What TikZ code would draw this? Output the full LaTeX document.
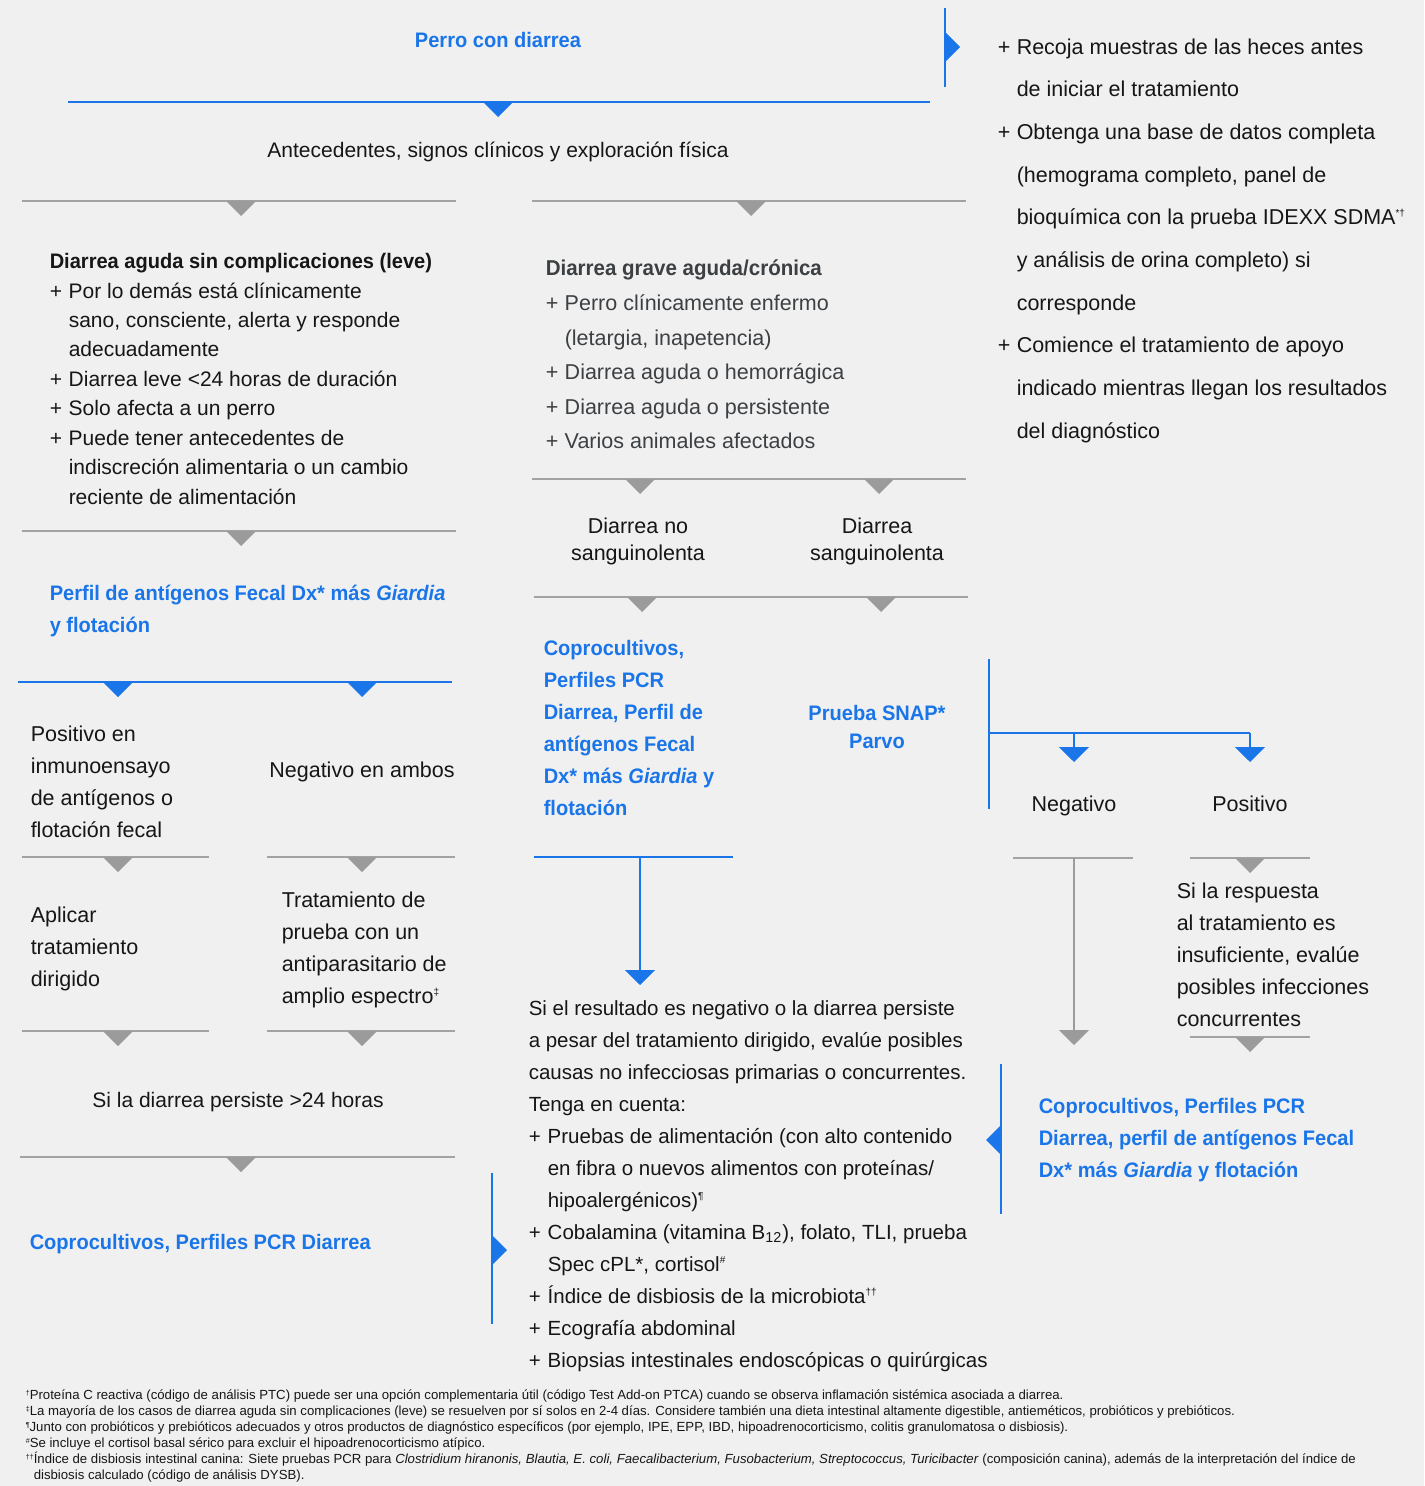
\documentclass[tikz,border=0pt]{standalone}
\usepackage{fontspec}
\setmainfont{Liberation Sans}[BoldFeatures={FakeStretch=0.955},BoldItalicFeatures={FakeStretch=0.955}]
\usepackage{tikz}
\usetikzlibrary{positioning,arrows.meta}
\definecolor{bgc}{HTML}{F0F0F0}
\definecolor{idxblue}{HTML}{1A75E8}
\definecolor{sepgrey}{HTML}{A3A3A3}
\definecolor{trigrey}{HTML}{9B9B9B}
\definecolor{txt}{HTML}{161616}
\definecolor{txtgrey}{HTML}{3C4043}
\newcommand{\itm}{\makebox[9.5pt][l]{+}}
\newcommand{\ind}{\hspace*{9.5pt}}
\newcommand{\fn}[1]{\smash{\textsuperscript{\tiny #1}}}
\newcommand{\fnm}[1]{\smash{\raisebox{2pt}{\fontsize{3.6}{4}\selectfont #1}}}
\tikzset{
  tridown/.pic={\fill (-15,0) -- (15,0) -- (0,15) -- cycle;},
  triright/.pic={\fill (0,-15) -- (0,15) -- (15,0) -- cycle;},
  trileft/.pic={\fill (0,-15) -- (0,15) -- (-15,0) -- cycle;}
}

\begin{document}
\begin{tikzpicture}[x=0.5pt,y=-0.5pt,line width=0.75pt,
                    font=\fontsize{10.75}{16}\selectfont,text=txt]
  \tikzstyle{every node}=[inner sep=0pt]
  \tikzstyle{hdr}=[text=idxblue,font=\fontsize{10.5}{16}\selectfont\bfseries]
  \tikzstyle{greyline}=[draw=sepgrey]
  \tikzstyle{blueline}=[draw=idxblue]
  \tikzstyle{blk}=[anchor=base west,align=left]
  \tikzstyle{ctr}=[anchor=base,align=center]
  \tikzstyle{tip}=[-{Triangle[width=15pt,length=7.5pt]}]

  \fill[bgc] (0,0) rectangle (1424,1486);
  \useasboundingbox (0,0) rectangle (1424,1486);

  % top (multi-line nodes sit on the baseline of their last line)
  \node[hdr,ctr] (dog) at (498,48) {Perro con diarrea};
  \draw[blueline] (68,102) -- (930,102);
  \pic[fill=idxblue] at (498,102) {tridown};
  \draw[blueline] (945,8) -- (945,87);
  \pic[fill=idxblue] at (945,47) {triright};

  \node[blk,font=\fontsize{10.75}{21.33}\selectfont] (todo) at (997,438)
    {\itm Recoja muestras de las heces antes\\
     \ind de iniciar el tratamiento\\
     \itm Obtenga una base de datos completa\\
     \ind (hemograma completo, panel de\\
     \ind bioquímica con la prueba IDEXX SDMA\fn{*†}\\
     \ind y análisis de orina completo) si\\
     \ind corresponde\\
     \itm Comience el tratamiento de apoyo\\
     \ind indicado mientras llegan los resultados\\
     \ind del diagnóstico};

  \node[ctr,font=\fontsize{10.5}{14}\selectfont] (hist) at (498,158)
    {Antecedentes, signos clínicos y exploración física};

  \draw[greyline] (22,201) -- (456,201);
  \pic[fill=trigrey] at (241,201) {tridown};
  \draw[greyline] (532,201) -- (966,201);
  \pic[fill=trigrey] at (751,201) {tridown};

  % left branch
  \node[blk,font=\fontsize{10.5}{14.7}\selectfont] (mild) at (49,504)
    {\textbf{Diarrea aguda sin complicaciones (leve)}\\
     \itm Por lo demás está clínicamente\\
     \ind sano, consciente, alerta y responde\\
     \ind adecuadamente\\
     \itm Diarrea leve <24 horas de duración\\
     \itm Solo afecta a un perro\\
     \itm Puede tener antecedentes de\\
     \ind indiscreción alimentaria o un cambio\\
     \ind reciente de alimentación};

  \draw[greyline] (22,531) -- (456,531);
  \pic[fill=trigrey] at (241,531) {tridown};

  \node[hdr,blk] (fecal) at (49,632)
    {Perfil de antígenos Fecal Dx* más \textit{Giardia}\\
     y flotación};

  \draw[blueline] (18,682) -- (452,682);
  \pic[fill=idxblue] at (118,682) {tridown};
  \pic[fill=idxblue] at (362,682) {tridown};

  \node[blk] (pos) at (30,837)
    {Positivo en\\ inmunoensayo\\ de antígenos o\\ flotación fecal};
  \node[ctr] (neg) at (362,777) {Negativo en ambos};

  \draw[greyline] (22,857) -- (209,857);
  \pic[fill=trigrey] at (118,857) {tridown};
  \draw[greyline] (267,857) -- (455,857);
  \pic[fill=trigrey] at (362,857) {tridown};

  \node[blk] (treat) at (30,986)
    {Aplicar\\ tratamiento\\ dirigido};
  \node[blk] (trial) at (281,1003)
    {Tratamiento de\\ prueba con un\\ antiparasitario de\\ amplio espectro\fn{‡}};

  \draw[greyline] (22,1031) -- (209,1031);
  \pic[fill=trigrey] at (118,1031) {tridown};
  \draw[greyline] (267,1031) -- (455,1031);
  \pic[fill=trigrey] at (362,1031) {tridown};

  \node[ctr,font=\fontsize{10.5}{14}\selectfont] (persist) at (238,1107) {Si la diarrea persiste >24 horas};

  \draw[greyline] (20,1157) -- (455,1157);
  \pic[fill=trigrey] at (241,1157) {tridown};

  \node[hdr,blk] (pcrleft) at (29,1249) {Coprocultivos, Perfiles PCR Diarrea};
  \draw[blueline] (492,1173) -- (492,1324);
  \pic[fill=idxblue] at (492,1250) {triright};

  % middle branch
  \node[blk,text=txtgrey,font=\fontsize{10.75}{17.25}\selectfont] (severe) at (545,448.5)
    {\textbf{Diarrea grave aguda/crónica}\\
     \itm Perro clínicamente enfermo\\
     \ind (letargia, inapetencia)\\
     \itm Diarrea aguda o hemorrágica\\
     \itm Diarrea aguda o persistente\\
     \itm Varios animales afectados};

  \draw[greyline] (532,479) -- (966,479);
  \pic[fill=trigrey] at (640,479) {tridown};
  \pic[fill=trigrey] at (879,479) {tridown};

  \node[ctr,font=\fontsize{10.75}{13.5}\selectfont] (nonbloody) at (638,560)
    {Diarrea no\\ sanguinolenta};
  \node[ctr,font=\fontsize{10.75}{13.5}\selectfont] (bloody) at (877,560)
    {Diarrea\\ sanguinolenta};

  \draw[greyline] (534,597) -- (968,597);
  \pic[fill=trigrey] at (642,597) {tridown};
  \pic[fill=trigrey] at (881,597) {tridown};

  \node[hdr,blk] (pcrmid) at (543,815)
    {Coprocultivos,\\ Perfiles PCR\\ Diarrea, Perfil de\\ antígenos Fecal\\
     Dx* más \textit{Giardia} y\\ flotación};
  \node[hdr,ctr,font=\fontsize{10.5}{14}\selectfont\bfseries] (snap) at (877,748)
    {Prueba SNAP*\\ Parvo};

  \draw[blueline] (534,857) -- (733,857);
  \coordinate (midtop) at (640,857);
  \coordinate (midbot) at (640,985);
  \draw[blueline,tip,idxblue] (midtop) -- (midbot);

  \node[blk,font=\fontsize{10.25}{16}\selectfont] (noninf) at (528,1367)
    {Si el resultado es negativo o la diarrea persiste\\
     a pesar del tratamiento dirigido, evalúe posibles\\
     causas no infecciosas primarias o concurrentes.\\
     Tenga en cuenta:\\
     \itm Pruebas de alimentación (con alto contenido\\
     \ind en fibra o nuevos alimentos con proteínas/\\
     \ind hipoalergénicos)\fn{¶}\\
     \itm Cobalamina (vitamina B\textsubscript{12}), folato, TLI, prueba\\
     \ind Spec cPL*, cortisol\fn{\#}\\
     \itm Índice de disbiosis de la microbiota\fn{††}\\
     \itm Ecografía abdominal\\
     \itm Biopsias intestinales endoscópicas o quirúrgicas};

  % parvo branch
  \coordinate (fork) at (989,733);
  \coordinate (negtip) at (1074,762);
  \coordinate (postip) at (1250,762);
  \draw[blueline] (989,659) -- (989,809);
  \draw[blueline] (fork) -- (1250,733);
  \draw[blueline,tip,idxblue] (1074,733) -- (negtip);
  \draw[blueline,tip,idxblue] (1250,733) -- (postip);

  \node[ctr] (pneg) at (1074,811) {Negativo};
  \node[ctr] (ppos) at (1250,811) {Positivo};

  \draw[greyline] (1013,858) -- (1133,858);
  \coordinate (negtop) at (1074,858);
  \coordinate (negbot) at (1074,1045);
  \draw[greyline,tip,trigrey] (negtop) -- (negbot);

  \draw[greyline] (1190,858) -- (1310,858);
  \pic[fill=trigrey] at (1250,858) {tridown};

  \node[blk] (resp) at (1176,1026)
    {Si la respuesta\\ al tratamiento es\\ insuficiente, evalúe\\
     posibles infecciones\\ concurrentes};

  \draw[greyline] (1190,1037) -- (1310,1037);
  \pic[fill=trigrey] at (1250,1037) {tridown};

  \draw[blueline] (1001,1064) -- (1001,1214);
  \pic[fill=idxblue] at (1001,1140) {trileft};
  \node[hdr,blk] (pcrright) at (1038,1177)
    {Coprocultivos, Perfiles PCR\\
     Diarrea, perfil de antígenos Fecal\\
     Dx* más \textit{Giardia} y flotación};

  % footnotes
  \node[blk,font=\fontsize{6.6}{8}\selectfont] (notes) at (25,1479)
    {\fnm{†}Proteína C reactiva (código de análisis PTC) puede ser una opción complementaria útil (código Test Add-on PTCA) cuando se observa inflamación sistémica asociada a diarrea.\\
     \fnm{‡}La mayoría de los casos de diarrea aguda sin complicaciones (leve) se resuelven por sí solos en 2-4 días. Considere también una dieta intestinal altamente digestible, antieméticos, probióticos y prebióticos.\\
     \fnm{¶}Junto con probióticos y prebióticos adecuados y otros productos de diagnóstico específicos (por ejemplo, IPE, EPP, IBD, hipoadrenocorticismo, colitis granulomatosa o disbiosis).\\
     \fnm{\#}Se incluye el cortisol basal sérico para excluir el hipoadrenocorticismo atípico.\\
     \fnm{††}Índice de disbiosis intestinal canina: Siete pruebas PCR para \textit{Clostridium hiranonis, Blautia, E. coli, Faecalibacterium, Fusobacterium, Streptococcus, Turicibacter} (composición canina), además de la interpretación del índice de\\
     \hspace*{4pt}disbiosis calculado (código de análisis DYSB).};
\end{tikzpicture}
\end{document}
